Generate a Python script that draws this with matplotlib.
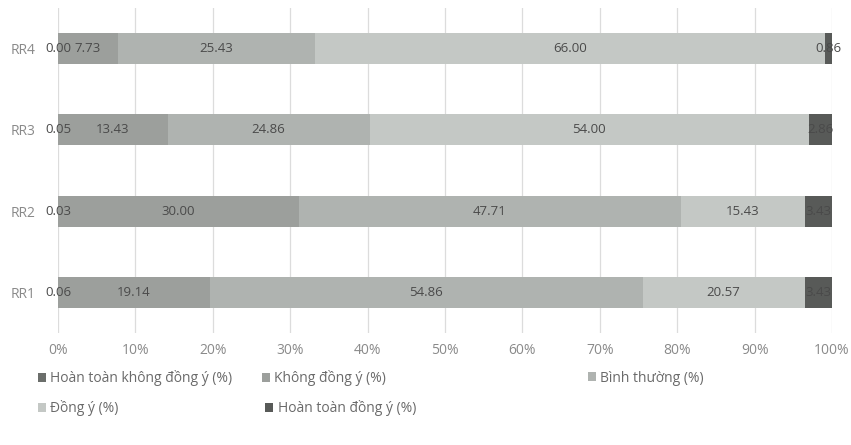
import numpy as np
import matplotlib
matplotlib.use("Agg")
import matplotlib.pyplot as plt
from matplotlib.patches import Patch

plt.rcParams['font.family'] = ['Open Sans', 'DejaVu Sans']

categories = ["RR1", "RR2", "RR3", "RR4"]
series_names = [
    "Hoàn toàn không đồng ý (%)",
    "Không đồng ý (%)",
    "Bình thường (%)",
    "Đồng ý (%)",
    "Hoàn toàn đồng ý (%)",
]
hoan_toan_khong = [0.06, 0.03, 0.05, 0.00]
khong_dong_y = [19.14, 30.00, 13.43, 7.73]
binh_thuong = [54.86, 47.71, 24.86, 25.43]
dong_y = [20.57, 15.43, 54.00, 66.00]
hoan_toan_dong_y = [3.43, 3.43, 2.86, 0.86]
tick_labels = ["0%", "10%", "20%", "30%", "40%", "50%", "60%", "70%", "80%", "90%", "100%"]

colors = ["#6b6e6b", "#9c9f9c", "#afb3b0", "#c4c8c5", "#585a58"]

values = np.array([hoan_toan_khong, khong_dong_y, binh_thuong, dong_y, hoan_toan_dong_y])
totals = values.sum(axis=0)
shares = values / totals * 100  # 100% stacked

W, H = 851, 445
fig = plt.figure(figsize=(W / 100, H / 100), dpi=100)
ax = fig.add_axes([58 / W, (H - 333) / H, (832 - 58) / W, (333 - 8) / H])

y = np.arange(len(categories))
left = np.zeros(len(categories))
for i, name in enumerate(series_names):
    ax.barh(y, shares[i], left=left, height=0.38, color=colors[i],
            edgecolor="none", zorder=2, label=name)
    for j in range(len(categories)):
        cx = left[j] + shares[i][j] / 2
        ax.text(cx, y[j], f"{values[i][j]:.2f}", ha="center", va="center",
                fontsize=9.5, color="#4a4a4a", zorder=3)
    left += shares[i]

ax.set_xlim(0, 100)
ax.set_ylim(-0.5, 3.5)
ax.set_xticks(np.arange(0, 101, 10))
ax.set_xticklabels(tick_labels, fontsize=10, color="#8a8a8a")
ax.set_yticks(y)
ax.set_yticklabels(categories, fontsize=10, color="#8a8a8a")
ax.tick_params(axis="both", length=0)
ax.tick_params(axis="x", pad=7)
ax.tick_params(axis="y", pad=16)
ax.grid(axis="x", color="#dcdcdc", linewidth=0.9, zorder=0)
for s in ax.spines.values():
    s.set_visible(False)

handles = [Patch(facecolor=c, edgecolor="none") for c in colors]
legend_pos = [
    ([0], 38, 378), ([1], 262, 378), ([2], 588, 378),
    ([3], 38, 408), ([4], 265, 408),
]
for idx, px, py in legend_pos:
    fig.legend([handles[k] for k in idx], [series_names[k] for k in idx],
               loc="center left", bbox_to_anchor=(px / W, 1 - py / H),
               frameon=False, fontsize=10, handlelength=0.6, handleheight=0.6,
               handletextpad=0.3, borderpad=0, borderaxespad=0,
               labelcolor="#6a6a6a")

fig.savefig("out.png", dpi=100, facecolor="white")
